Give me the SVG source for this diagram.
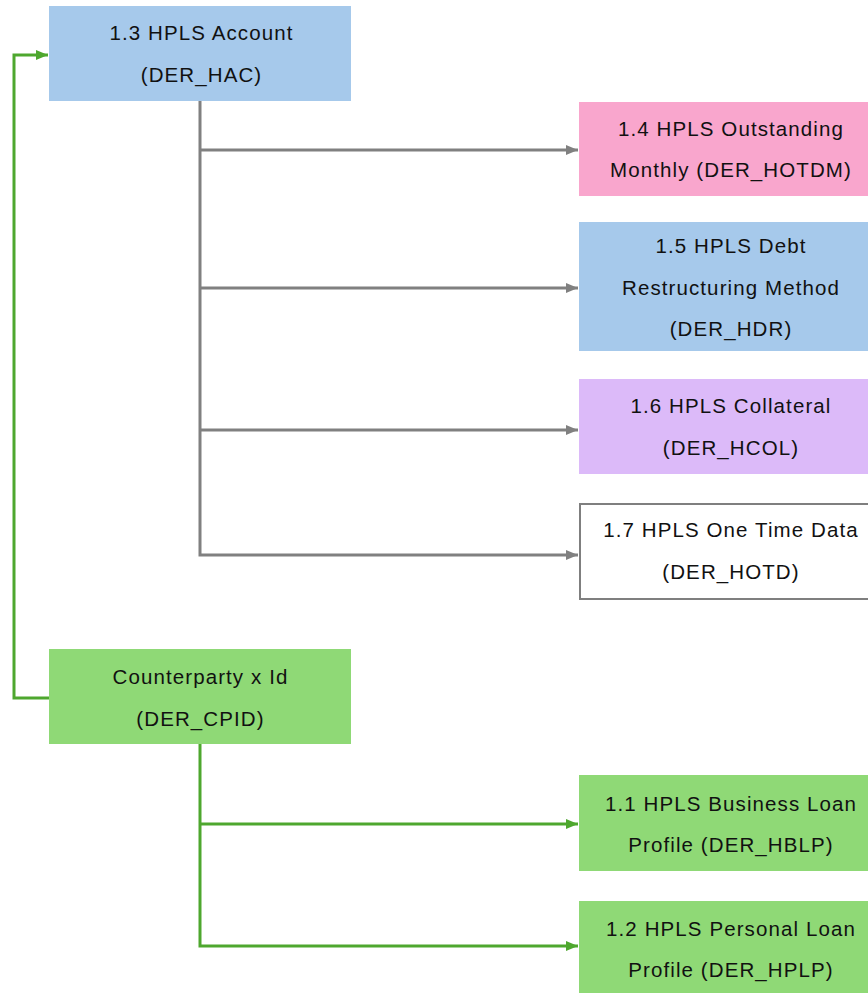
<svg xmlns="http://www.w3.org/2000/svg" width="868" height="993" viewBox="0 0 868 993">
<style>
text{font-family:"Liberation Sans",Arial,sans-serif;font-size:20.5px;letter-spacing:1.1px;fill:#111;text-anchor:middle}
.blue{fill:#A6C9EB}.pink{fill:#F9A6CD}.purple{fill:#DCBAF9}.green{fill:#8FD976}
.white{fill:#fff;stroke:#7f7f7f;stroke-width:2}
.g{fill:none;stroke:#808080;stroke-width:3}
.gr{fill:none;stroke:#4EA72E;stroke-width:3}
</style>
<defs>
<marker id="ag" markerWidth="12" markerHeight="10" refX="12" refY="5" orient="auto" markerUnits="userSpaceOnUse"><path d="M0,0L12,5L0,10z" fill="#808080"/></marker>
<marker id="agr" markerWidth="12" markerHeight="10" refX="12" refY="5" orient="auto" markerUnits="userSpaceOnUse"><path d="M0,0L12,5L0,10z" fill="#4EA72E"/></marker>
</defs>
<g id="connectors">
<path class="g" d="M200,101V555H578" marker-end="url(#ag)"/>
<path class="g" d="M200,150H578" marker-end="url(#ag)"/>
<path class="g" d="M200,288H578" marker-end="url(#ag)"/>
<path class="g" d="M200,430H578" marker-end="url(#ag)"/>
<path class="gr" d="M49,698H14V55H48" marker-end="url(#agr)"/>
<path class="gr" d="M200,744V946H578" marker-end="url(#agr)"/>
<path class="gr" d="M200,824H578" marker-end="url(#agr)"/>
</g>
<g id="hac"><rect class="blue" x="49" y="6" width="302" height="95"/><text x="201.5" y="40">1.3 HPLS Account</text><text x="201.5" y="82">(DER_HAC)</text></g>
<g id="hotdm"><rect class="pink" x="579" y="102" width="289" height="94"/><text x="731" y="136">1.4 HPLS Outstanding</text><text x="731" y="177">Monthly (DER_HOTDM)</text></g>
<g id="hdr"><rect class="blue" x="579" y="222" width="289" height="129"/><text x="731" y="253">1.5 HPLS Debt</text><text x="731" y="295">Restructuring Method</text><text x="731" y="336">(DER_HDR)</text></g>
<g id="hcol"><rect class="purple" x="579" y="379" width="289" height="95"/><text x="731" y="413">1.6 HPLS Collateral</text><text x="731" y="455">(DER_HCOL)</text></g>
<g id="hotd"><rect class="white" x="580" y="504" width="290" height="95"/><text x="731" y="537">1.7 HPLS One Time Data</text><text x="731" y="579">(DER_HOTD)</text></g>
<g id="cpid"><rect class="green" x="49" y="649" width="302" height="95"/><text x="200.5" y="684">Counterparty x Id</text><text x="200.5" y="726">(DER_CPID)</text></g>
<g id="hblp"><rect class="green" x="579" y="775" width="289" height="96"/><text x="731" y="811">1.1 HPLS Business Loan</text><text x="731" y="852">Profile (DER_HBLP)</text></g>
<g id="hplp"><rect class="green" x="579" y="901" width="289" height="92"/><text x="731" y="936">1.2 HPLS Personal Loan</text><text x="731" y="977">Profile (DER_HPLP)</text></g>
</svg>
